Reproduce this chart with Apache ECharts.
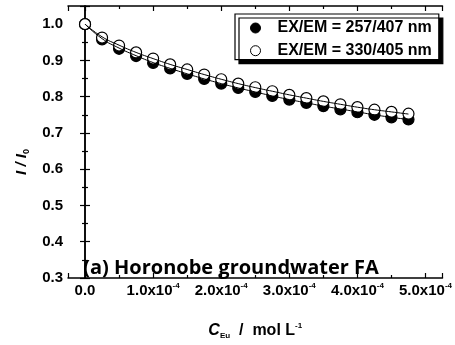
<!DOCTYPE html>
<html><head><meta charset="utf-8">
<script src="https://cdn.jsdelivr.net/npm/echarts@6/dist/echarts.min.js"></script>
<style>html,body{margin:0;padding:0;background:#fff}#c{width:455px;height:345px}</style>
</head><body><div id="c"></div>
<script>
// Eu(III) concentration / mol L-1
const concentration = [0, 0.25e-4, 0.5e-4, 0.75e-4, 1.0e-4, 1.25e-4, 1.5e-4, 1.75e-4, 2.0e-4, 2.25e-4,
  2.5e-4, 2.75e-4, 3.0e-4, 3.25e-4, 3.5e-4, 3.75e-4, 4.0e-4, 4.25e-4, 4.5e-4, 4.75e-4];
// I / I0 at EX/EM = 257/407 nm (filled circles)
const ratio257 = [1.000, 0.958, 0.932, 0.912, 0.893, 0.878, 0.863, 0.849, 0.836, 0.824,
  0.813, 0.802, 0.792, 0.783, 0.774, 0.765, 0.757, 0.750, 0.743, 0.737];
// I / I0 at EX/EM = 330/405 nm (open circles)
const ratio330 = [1.000, 0.963, 0.941, 0.922, 0.905, 0.889, 0.875, 0.861, 0.848, 0.836,
  0.826, 0.815, 0.805, 0.796, 0.787, 0.779, 0.771, 0.764, 0.758, 0.753];
// fitted curves
const fit257 = [1.000, 0.960, 0.934, 0.913, 0.894, 0.878, 0.863, 0.849, 0.836, 0.824,
  0.813, 0.802, 0.792, 0.783, 0.774, 0.766, 0.758, 0.750, 0.743, 0.737];
const fit330 = [1.000, 0.965, 0.942, 0.922, 0.905, 0.889, 0.875, 0.861, 0.848, 0.836,
  0.825, 0.815, 0.805, 0.796, 0.787, 0.779, 0.771, 0.764, 0.758, 0.752];
const seriesNames = ['EX/EM = 257/407 nm', 'EX/EM = 330/405 nm'];
const xTickMantissas = ['0.0', '1.0', '2.0', '3.0', '4.0', '5.0'];
const yTickLabels = ['0.3', '0.4', '0.5', '0.6', '0.7', '0.8', '0.9', '1.0'];
const annotation = '(a) Horonobe groundwater FA';

const pairs = (xs, ys) => xs.map((x, i) => [x, ys[i]]);
const FONT = '"Liberation Sans", Arial, sans-serif';
const chart = echarts.init(document.getElementById('c'), null, {renderer: 'canvas'});

const axisLineStyle = {show: true, lineStyle: {color: '#000', width: 1.5}};
const tickIn = {show: true, inside: true, length: 5, lineStyle: {color: '#000', width: 1.2}};
const minorIn = {show: true, splitNumber: 2, length: 3, lineStyle: {color: '#000', width: 1.2}};

chart.setOption({
  animation: false,
  backgroundColor: '#fff',
  grid: {left: 68, right: 7, top: 6, bottom: 58, containLabel: false},
  legend: {
    orient: 'vertical', left: 235, top: 14,
    data: seriesNames,
    icon: 'circle',
    itemWidth: 10, itemHeight: 10, itemGap: 6.7,
    padding: [6, 7, 1, 15],
    backgroundColor: '#fff', borderColor: '#000', borderWidth: 1.2,
    shadowColor: '#000', shadowBlur: 0, shadowOffsetX: 4, shadowOffsetY: 4,
    itemStyle: {borderWidth: 1},
    formatter: function (name) { return '{t|' + name + '}'; },
    textStyle: {
      rich: {t: {fontFamily: FONT, fontWeight: 'bold', fontSize: 16, color: '#000', lineHeight: 16, padding: [0, 0, 0, 12]}}
    },
    selectedMode: false
  },
  xAxis: [{
    type: 'value', min: -0.25e-4, max: 5.25e-4, splitNumber: 5,
    axisLine: axisLineStyle, axisTick: tickIn, minorTick: minorIn,
    splitLine: {show: false},
    axisLabel: {
      margin: 4, showMinLabel: true, showMaxLabel: true,
      formatter: function (v) {
        const k = Math.round(v / 1e-4 * 100) / 100;
        if (Math.abs(k - Math.round(k)) > 1e-6 || k < 0) return '';
        const m = xTickMantissas[Math.round(k)];
        if (m === undefined) return '';
        return k === 0 ? '{b|' + m + '}' : '{b|' + m + 'x10}{s|-4}';
      },
      rich: {
        b: {fontFamily: FONT, fontWeight: 'bold', fontSize: 15, color: '#000', lineHeight: 17},
        s: {fontFamily: FONT, fontWeight: 'bold', fontSize: 8, color: '#000', lineHeight: 8, verticalAlign: 'top'}
      }
    },
    name: '{i|C}{sub|Eu}{b|  /  mol L}{sup|-1}',
    nameLocation: 'middle', nameGap: 44,
    nameTextStyle: {
      rich: {
        i: {fontFamily: FONT, fontWeight: 'bold', fontStyle: 'italic', fontSize: 16, color: '#000', lineHeight: 18},
        sub: {fontFamily: FONT, fontWeight: 'bold', fontSize: 8, color: '#000', lineHeight: 8, verticalAlign: 'bottom'},
        b: {fontFamily: FONT, fontWeight: 'bold', fontSize: 16, color: '#000', lineHeight: 18},
        sup: {fontFamily: FONT, fontWeight: 'bold', fontSize: 8, color: '#000', lineHeight: 8, verticalAlign: 'top'}
      }
    }
  }, {
    type: 'value', position: 'top', min: -0.25e-4, max: 5.25e-4, splitNumber: 5,
    axisLine: axisLineStyle, axisTick: tickIn, minorTick: minorIn,
    splitLine: {show: false}, axisLabel: {show: false}
  }],
  yAxis: [{
    type: 'value', min: 0.3, max: 1.05, interval: 0.1,
    axisLine: axisLineStyle, axisTick: tickIn, minorTick: minorIn,
    splitLine: {show: false},
    axisLabel: {
      margin: 5, fontFamily: FONT, fontWeight: 'bold', fontSize: 15, color: '#000',
      formatter: function (v) {
        const t = (Math.round(v * 10) / 10).toFixed(1);
        return (Math.abs(v * 10 - Math.round(v * 10)) < 1e-6 && yTickLabels.indexOf(t) >= 0) ? t : '';
      }
    },
    name: '{i|I / I}{sub|0}',
    nameLocation: 'middle', nameGap: 37, nameRotate: 90,
    nameTextStyle: {
      padding: [0, 40, 0, 0],
      rich: {
        i: {fontFamily: FONT, fontWeight: 'bold', fontStyle: 'italic', fontSize: 15, color: '#000', lineHeight: 18},
        sub: {fontFamily: FONT, fontWeight: 'bold', fontSize: 9, color: '#000', lineHeight: 9, verticalAlign: 'bottom'}
      }
    }
  }, {
    type: 'value', position: 'right', min: 0.3, max: 1.05, interval: 0.1,
    axisLine: axisLineStyle, axisTick: tickIn, minorTick: minorIn,
    splitLine: {show: false}, axisLabel: {show: false}
  }],
  graphic: [{
    type: 'text', x: 231, y: 268, z: 100,
    style: {text: annotation, font: 'bold 20px "Open Sans", sans-serif', fill: '#000',
      textAlign: 'center', textVerticalAlign: 'middle'}
  }],
  series: [{
    name: seriesNames[0], type: 'scatter', data: pairs(concentration, ratio257),
    symbol: 'circle', symbolSize: 11, z: 2,
    itemStyle: {color: '#000', borderColor: '#000', borderWidth: 1.2, opacity: 1}
  }, {
    name: seriesNames[1], type: 'scatter', data: pairs(concentration, ratio330),
    symbol: 'circle', symbolSize: 11, z: 3,
    itemStyle: {color: '#fff', borderColor: '#000', borderWidth: 1.2, opacity: 1}
  }, {
    name: 'fit257', type: 'line', data: pairs(concentration, fit257), smooth: true,
    showSymbol: false, symbol: 'none', z: 4, lineStyle: {color: '#000', width: 1}
  }, {
    name: 'fit330', type: 'line', data: pairs(concentration, fit330), smooth: true,
    showSymbol: false, symbol: 'none', z: 4, lineStyle: {color: '#000', width: 1}
  }]
});
</script></body></html>
